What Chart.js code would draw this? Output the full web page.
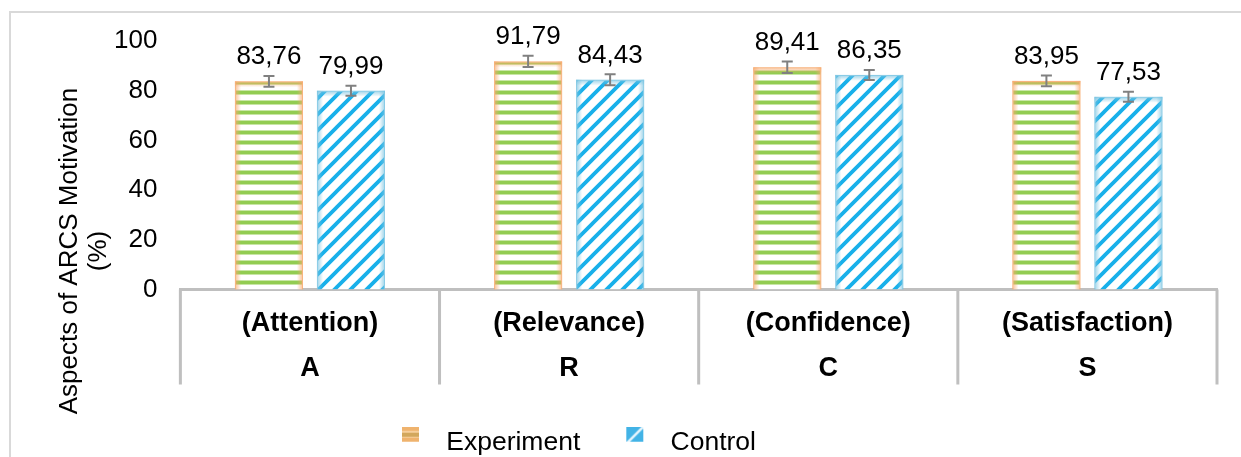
<!DOCTYPE html>
<html>
<head>
<meta charset="utf-8">
<script src="https://cdn.jsdelivr.net/npm/chart.js@4.4.0/dist/chart.umd.min.js"></script>
<style>
  html, body { margin: 0; padding: 0; background: #fff; overflow: hidden; }
  #frame { position: absolute; left: 9px; top: 11px; width: 1400px; height: 600px; border: 2px solid #d9d9d9; box-sizing: border-box; }
  #wrap { position: absolute; left: 0; top: 0; width: 1241px; height: 466px; }
</style>
</head>
<body>
<div id="frame"></div>
<div id="wrap"><canvas id="arcs-chart"></canvas></div>
<script>
// chart data
var categories = [['(Attention)', 'A'], ['(Relevance)', 'R'], ['(Confidence)', 'C'], ['(Satisfaction)', 'S']];
var experiment = [83.76, 91.79, 89.41, 83.95];
var control = [79.99, 84.43, 86.35, 77.53];
var experimentErr = [2.2, 2.3, 2.3, 2.2];
var controlErr = [2.0, 2.2, 2.0, 2.0];
var yTicks = [0, 20, 40, 60, 80, 100];
var yTitle = ['Aspects of ARCS Motivation', '(%)'];
var seriesNames = ['Experiment', 'Control'];
var glowColors = ['247,170,110', '120,195,225'];

Chart.defaults.font.family = "Arial, 'Liberation Sans', sans-serif";
Chart.defaults.color = '#000';

var canvas = document.getElementById('arcs-chart');
var ctx = canvas.getContext('2d');

// green horizontal stripes
function greenStripes() {
    var t = document.createElement('canvas');
    t.width = 4; t.height = 10;
    var c = t.getContext('2d');
    c.fillStyle = '#fff'; c.fillRect(0, 0, 4, 10);
    c.fillStyle = '#c8e6a6'; c.fillRect(0, 0, 4, 1);
    c.fillStyle = '#92cc52'; c.fillRect(0, 1, 4, 3);
    c.fillStyle = '#c8e6a6'; c.fillRect(0, 4, 4, 1);
    return ctx.createPattern(t, 'repeat');
}

// blue diagonal stripes
function blueDiagonal() {
    var p = 16;
    var t = document.createElement('canvas');
    t.width = p; t.height = p;
    var c = t.getContext('2d');
    c.fillStyle = '#fff'; c.fillRect(0, 0, p, p);
    c.strokeStyle = '#18b0ea'; c.lineWidth = 3.8;
    c.beginPath();
    c.moveTo(0, p); c.lineTo(p, 0);
    c.moveTo(-4, 4); c.lineTo(4, -4);
    c.moveTo(p - 4, p + 4); c.lineTo(p + 4, p - 4);
    c.stroke();
    return ctx.createPattern(t, 'repeat');
}

// legend swatches (box sits left-up of the text)
function legendIcon(kind) {
    var t = document.createElement('canvas');
    t.width = 51; t.height = 32;
    var c = t.getContext('2d');
    if (kind == 'exp') {
        c.fillStyle = '#efb36e'; c.fillRect(20, 0, 17, 15);
        c.fillStyle = '#f6cf9c'; c.fillRect(20, 4, 17, 2);
        c.fillStyle = '#d2a75c'; c.fillRect(20, 6, 17, 4);
        c.fillStyle = '#f6cf9c'; c.fillRect(20, 10, 17, 1);
    } else {
        c.fillStyle = '#42b3e6'; c.fillRect(20, 0, 17, 15);
        c.save();
        c.beginPath(); c.rect(20, 0, 17, 15); c.clip();
        c.strokeStyle = '#e8f6fd'; c.lineWidth = 2.5;
        c.beginPath(); c.moveTo(20, 17); c.lineTo(38, -1); c.stroke();
        c.restore();
    }
    return t;
}

// soft coloured edges on the bars
var barGlow = {
    id: 'barGlow',
    afterDatasetsDraw: function(chart) {
        var c = chart.ctx;
        c.save();
        chart.data.datasets.forEach(function(ds, d) {
            var rgb = glowColors[d];
            chart.getDatasetMeta(d).data.forEach(function(bar) {
                var l = bar.x - bar.width / 2, r = bar.x + bar.width / 2;
                var g = c.createLinearGradient(l, 0, r, 0);
                g.addColorStop(0, 'rgba(' + rgb + ',0.75)');
                g.addColorStop(0.09, 'rgba(' + rgb + ',0)');
                g.addColorStop(0.91, 'rgba(' + rgb + ',0)');
                g.addColorStop(1, 'rgba(' + rgb + ',0.75)');
                c.fillStyle = g;
                c.fillRect(l, bar.y, bar.width, bar.base - bar.y);
                var v = c.createLinearGradient(0, bar.y, 0, bar.y + 6);
                v.addColorStop(0, 'rgba(' + rgb + ',0.75)');
                v.addColorStop(1, 'rgba(' + rgb + ',0)');
                c.fillStyle = v;
                c.fillRect(l, bar.y, bar.width, 6);
            });
        });
        c.restore();
    }
};

var errorBars = {
    id: 'errorBars',
    afterDatasetsDraw: function(chart) {
        var c = chart.ctx, y = chart.scales.y;
        c.save();
        c.strokeStyle = '#808080';
        c.lineWidth = 2;
        chart.data.datasets.forEach(function(ds, d) {
            chart.getDatasetMeta(d).data.forEach(function(bar, i) {
                var hi = y.getPixelForValue(ds.data[i] + ds.errors[i]);
                var lo = y.getPixelForValue(ds.data[i] - ds.errors[i]);
                c.beginPath();
                c.moveTo(bar.x, hi); c.lineTo(bar.x, lo);
                c.moveTo(bar.x - 5.5, hi); c.lineTo(bar.x + 5.5, hi);
                c.moveTo(bar.x - 5.5, lo); c.lineTo(bar.x + 5.5, lo);
                c.stroke();
            });
        });
        c.restore();
    }
};

var valueLabels = {
    id: 'valueLabels',
    afterDatasetsDraw: function(chart) {
        var c = chart.ctx;
        c.save();
        c.font = "26px Arial, 'Liberation Sans', sans-serif";
        c.fillStyle = '#000';
        c.textAlign = 'center';
        c.textBaseline = 'alphabetic';
        chart.data.datasets.forEach(function(ds, d) {
            chart.getDatasetMeta(d).data.forEach(function(bar, i) {
                c.fillText(ds.data[i].toFixed(2).replace('.', ','), bar.x, bar.y - 17);
            });
        });
        c.restore();
    }
};

// vertical lines between the two-level category labels
var categoryDividers = {
    id: 'categoryDividers',
    afterDraw: function(chart) {
        var x = chart.scales.x, c = chart.ctx;
        var step = (x.right - x.left) / categories.length;
        c.save();
        c.strokeStyle = '#bfbfbf';
        c.lineWidth = 3;
        c.beginPath();
        for (var i = 0; i <= categories.length; i++) {
            var px = x.left + i * step;
            c.moveTo(px, x.top);
            c.lineTo(px, x.top + 95);
        }
        c.stroke();
        c.restore();
    }
};

// y title centred on the whole chart box like the original
var sideTitle = {
    id: 'sideTitle',
    afterDraw: function(chart) {
        var c = chart.ctx;
        c.save();
        c.font = "26px Arial, 'Liberation Sans', sans-serif";
        c.fillStyle = '#000';
        c.textAlign = 'center';
        c.textBaseline = 'middle';
        c.translate(70, 251);
        c.rotate(-Math.PI / 2);
        yTitle.forEach(function(line, i) {
            c.fillText(line, 0, i * 29);
        });
        c.restore();
    }
};

var legendPlace = {
    id: 'legendPlace',
    afterLayout: function(chart) {
        chart.legend.left = 356;
    }
};

var chart = new Chart(canvas, {
    type: 'bar',
    data: {
        labels: categories,
        datasets: [{
            label: seriesNames[0],
            data: experiment,
            errors: experimentErr,
            backgroundColor: greenStripes(),
            borderColor: 'rgba(247,176,124,0.7)',
            borderWidth: 1,
            pointStyle: legendIcon('exp')
        }, {
            label: seriesNames[1],
            data: control,
            errors: controlErr,
            backgroundColor: blueDiagonal(),
            borderColor: 'rgba(140,205,232,0.7)',
            borderWidth: 1,
            pointStyle: legendIcon('ctrl')
        }]
    },
    options: {
        responsive: true,
        maintainAspectRatio: false,
        animation: false,
        categoryPercentage: 0.633,
        barPercentage: 0.83,
        layout: { padding: { top: 41, left: 91, right: 24, bottom: 0 } },
        plugins: {
            tooltip: { enabled: false },
            legend: {
                position: 'bottom',
                align: 'start',
                labels: {
                    usePointStyle: true,
                    pointStyleWidth: 51,
                    padding: 26,
                    font: { size: 26.5 },
                    color: '#000'
                }
            }
        },
        scales: {
            x: {
                grid: { display: false, drawTicks: false },
                border: { display: true, color: '#bfbfbf', width: 3 },
                ticks: {
                    font: { size: 27, weight: 'bold', lineHeight: 1.667 },
                    color: '#000',
                    padding: 12,
                    maxRotation: 0,
                    autoSkip: false
                }
            },
            y: {
                min: yTicks[0],
                max: yTicks[yTicks.length - 1],
                grid: { display: false, drawTicks: false },
                border: { display: false },
                ticks: {
                    stepSize: yTicks[1] - yTicks[0],
                    font: { size: 26 },
                    color: '#000',
                    padding: 23
                }
            }
        }
    },
    plugins: [barGlow, errorBars, valueLabels, categoryDividers, sideTitle, legendPlace]
});
</script>
</body>
</html>
